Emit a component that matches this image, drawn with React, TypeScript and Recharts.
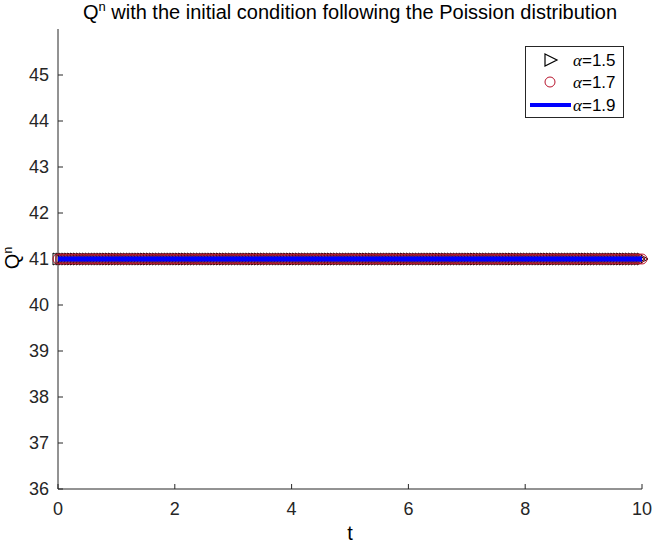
import { LineChart, Line, XAxis, YAxis } from 'recharts';

/* ─── Data ─────────────────────────────────────────────────────────────── */

// sampled time grid, step 0.05 over [0, 10]
const tValues = Array.from({ length: 201 }, (_, i) => Math.round(i * 5) / 100);

// Q^n stays flat at 41 for every alpha
const qAlpha15 = tValues.map(() => 41);
const qAlpha17 = tValues.map(() => 41);
const qAlpha19 = tValues.map(() => 41);

const xTicks = [0, 2, 4, 6, 8, 10];
const yTicks = [36, 37, 38, 39, 40, 41, 42, 43, 44, 45];
const legendLabels = ['1.5', '1.7', '1.9'];

const data = tValues.map((t, i) => ({ t, a15: qAlpha15[i], a17: qAlpha17[i], a19: qAlpha19[i] }));

/* ─── Style ────────────────────────────────────────────────────────────── */

const FONT = '"Liberation Sans", Arial, sans-serif';
const SERIF = '"Liberation Serif", "Times New Roman", serif';
const AX = '#262626';
const RED = '#b8142c';
const BLUE = '#0000ff';

const W = 655;
const H = 544;

/* ─── Ticks ────────────────────────────────────────────────────────────── */

function XTick(p: any) {
  return (
    <text x={p.x} y={p.y} dy="0.71em" textAnchor="middle" fontSize={18} fill={AX} fontFamily={FONT}>
      {p.payload.value}
    </text>
  );
}

function YTick(p: any) {
  return (
    <text x={p.x} y={p.y} dy="0.355em" textAnchor="end" fontSize={18} fill={AX} fontFamily={FONT}>
      {p.payload.value}
    </text>
  );
}

/* ─── Markers ──────────────────────────────────────────────────────────── */

function triangle(p: any) {
  const { cx, cy, index } = p;
  if (cx == null || cy == null) return <g key={`tri-${index}`} />;
  const pts = `${cx - 5},${cy - 6} ${cx + 6},${cy} ${cx - 5},${cy + 6}`;
  return <polygon key={`tri-${index}`} points={pts} fill="none" stroke="#000" strokeWidth={1} />;
}

function circle(p: any) {
  const { cx, cy, index } = p;
  if (cx == null || cy == null) return <g key={`cir-${index}`} />;
  return <circle key={`cir-${index}`} cx={cx} cy={cy} r={5} fill="none" stroke={RED} strokeWidth={1} />;
}

// blue curve re-drawn in the dot layer so it sits above the markers
function blueTrace(p: any) {
  const { index, points } = p;
  if (index !== 0 || !points) return <g key={`bl-${index}`} />;
  const d = points.map((q: any) => `${q.x},${q.y}`).join(' ');
  return <polyline key={`bl-${index}`} points={d} fill="none" stroke={BLUE} strokeWidth={5} />;
}

/* ─── Legend ───────────────────────────────────────────────────────────── */

function LegendBox({ x, y }: { x: number; y: number }) {
  const rows = [14, 36, 59];
  return (
    <g transform={`translate(${x},${y})`}>
      <rect x={0.5} y={0.5} width={98} height={71} fill="#fff" stroke={AX} strokeWidth={1} />
      <polygon points={`20,${rows[0] - 6} 32,${rows[0]} 20,${rows[0] + 6}`} fill="none" stroke="#000" strokeWidth={1.2} />
      <circle cx={25} cy={rows[1]} r={5} fill="none" stroke={RED} />
      <line x1={5} x2={46} y1={rows[2]} y2={rows[2]} stroke={BLUE} strokeWidth={4} />
      {legendLabels.map((lab, i) => (
        <text key={lab} x={48} y={rows[i]} dy="0.36em" fontSize={17} fill="#000" fontFamily={FONT}>
          <tspan fontFamily={SERIF} fontStyle="italic">α</tspan>
          <tspan>={lab}</tspan>
        </text>
      ))}
    </g>
  );
}

/* ─── Chart ────────────────────────────────────────────────────────────── */

export default function App() {
  return (
    <div style={{ position: 'absolute', left: 0, top: 0, width: W, height: H, background: '#fff' }}>
      <LineChart width={W} height={H} data={data} margin={{ top: 29, right: 13, bottom: 24, left: 8 }}>
        <XAxis dataKey="t" type="number" domain={[0, 10]} ticks={xTicks} height={31} interval={0}
          axisLine={{ stroke: AX }} tickLine={{ stroke: AX }} tickSize={-5} tickMargin={18} tick={XTick} />
        <XAxis xAxisId="top" dataKey="t" type="number" domain={[0, 10]} ticks={xTicks} orientation="top"
          height={0} axisLine={{ stroke: AX }} tickLine={{ stroke: AX }} tickSize={-5} tick={false} />
        <YAxis type="number" domain={[36, 46]} ticks={yTicks} width={50} interval={0}
          axisLine={{ stroke: AX }} tickLine={{ stroke: AX }} tickSize={-5} tickMargin={14} tick={YTick} />
        <YAxis yAxisId="right" type="number" domain={[36, 46]} ticks={yTicks} orientation="right" width={0}
          axisLine={{ stroke: AX }} tickLine={{ stroke: AX }} tickSize={-5} tick={false} />
        <Line dataKey="a15" stroke="none" dot={triangle} activeDot={false} isAnimationActive={false} />
        <Line dataKey="a17" stroke="none" dot={circle} activeDot={false} isAnimationActive={false} />
        <Line dataKey="a19" stroke={BLUE} strokeWidth={5} dot={blueTrace} activeDot={false} isAnimationActive={false} />
      </LineChart>
      <svg width={W} height={H} style={{ position: 'absolute', left: 0, top: 0, pointerEvents: 'none' }}>
        <text x={350} y={19} textAnchor="middle" fontSize={20} fill="#000" fontFamily={FONT}>
          Q<tspan fontSize={13} dy={-8}>n</tspan><tspan dy={8}> with the initial condition following the Poission distribution</tspan>
        </text>
        <text transform="translate(19,258) rotate(-90)" textAnchor="middle" fontSize={20} fill="#000" fontFamily={FONT}>
          Q<tspan fontSize={12} dy={-7}>n</tspan>
        </text>
        <text x={350} y={540} textAnchor="middle" fontSize={20} fill="#000" fontFamily={FONT}>t</text>
        <LegendBox x={525} y={46} />
      </svg>
    </div>
  );
}
